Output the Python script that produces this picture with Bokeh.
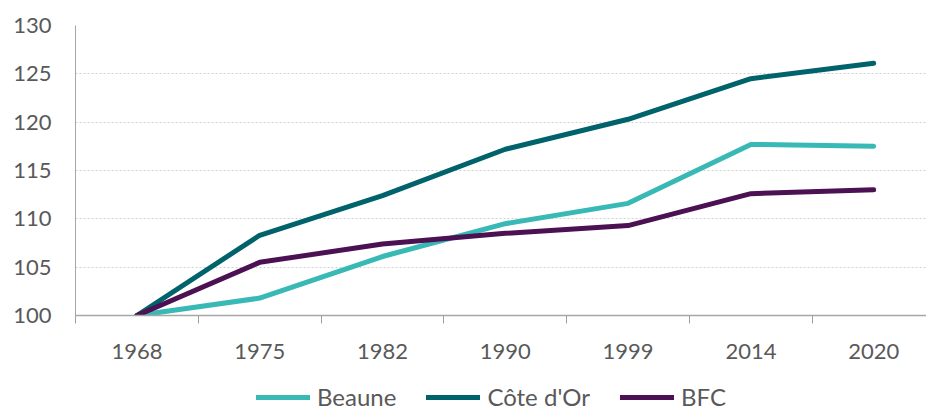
from bokeh.plotting import figure
from bokeh.layouts import column
from bokeh.models import Range1d, FixedTicker, Legend, LegendItem
from bokeh.embed import file_html
from bokeh.resources import INLINE

years = ["1968", "1975", "1982", "1990", "1999", "2014", "2020"]
beaune = [100, 101.8, 106.1, 109.5, 111.6, 117.7, 117.5]
cote_dor = [100, 108.3, 112.4, 117.2, 120.3, 124.5, 126.1]
bfc = [100, 105.5, 107.4, 108.5, 109.3, 112.6, 113.0]
y_ticks = [100, 105, 110, 115, 120, 125, 130]
series_names = ["Beaune", "Côte d'Or", "BFC"]
colors = ["#38B9B5", "#00636B", "#4B1152"]

xs = list(range(len(years)))

p = figure(width=926, height=377, output_backend="svg", toolbar_location=None,
           x_range=Range1d(-0.5, 6.43), y_range=Range1d(100, 130),
           min_border_left=75, min_border_right=0, min_border_top=25, min_border_bottom=62)
p.outline_line_color = None
p.background_fill_color = "white"
p.border_fill_color = "white"

font = "Lato"
grey = "#595959"

# x axis
p.xaxis.ticker = FixedTicker(ticks=xs, minor_ticks=[i - 0.5 for i in range(len(years) + 1)])
p.xaxis.major_label_overrides = {i: y for i, y in enumerate(years)}
p.xaxis.major_tick_out = 0
p.xaxis.major_tick_in = 0
p.xaxis.minor_tick_out = 8
p.xaxis.minor_tick_in = 0
p.xaxis.minor_tick_line_color = "#9E9E9E"
p.xaxis.axis_line_color = "#A6A6A6"
p.xaxis.axis_line_width = 1.5
p.xaxis.major_label_text_font = font
p.xaxis.major_label_text_font_size = "22px"
p.xaxis.major_label_text_color = grey
p.xaxis.major_label_standoff = 20

# y axis
p.yaxis.ticker = FixedTicker(ticks=y_ticks)
p.yaxis.major_tick_out = 0
p.yaxis.major_tick_in = 0
p.yaxis.minor_tick_out = 0
p.yaxis.minor_tick_in = 0
p.yaxis.axis_line_color = "#A6A6A6"
p.yaxis.major_label_text_font = font
p.yaxis.major_label_text_font_size = "22px"
p.yaxis.major_label_text_color = grey
p.yaxis.major_label_standoff = 24

p.xgrid.grid_line_color = None
p.ygrid.grid_line_color = "#D0D0D0"
p.ygrid.grid_line_dash = "2 2"
p.ygrid.ticker = FixedTicker(ticks=y_ticks[1:])

for vals, c in zip([beaune, cote_dor, bfc], colors):
    p.line(xs, vals, line_color=c, line_width=5, line_cap="round", line_join="round")

# legend strip below the chart (its lines lie outside its visible range)
lg = figure(width=926, height=34, output_backend="svg", toolbar_location=None,
            x_range=Range1d(0, 1), y_range=Range1d(0, 1), min_border=0)
lg.axis.visible = False
lg.grid.grid_line_color = None
lg.outline_line_color = None
items = []
for name, vals, c in zip(series_names, [beaune, cote_dor, bfc], colors):
    r = lg.line(xs, vals, line_color=c, line_width=5, line_cap="round")
    items.append(LegendItem(label=name, renderers=[r]))

legend = Legend(items=items, orientation="horizontal", location=(181, 0),
                padding=0, margin=0, spacing=30, label_standoff=7,
                glyph_width=54, glyph_height=22,
                border_line_color=None, background_fill_alpha=0,
                label_text_font=font, label_text_font_size="24px", label_text_color=grey)
lg.add_layout(legend, "center")

layout = column(p, lg, spacing=0)
open("out.html", "w").write(file_html(layout, INLINE))
